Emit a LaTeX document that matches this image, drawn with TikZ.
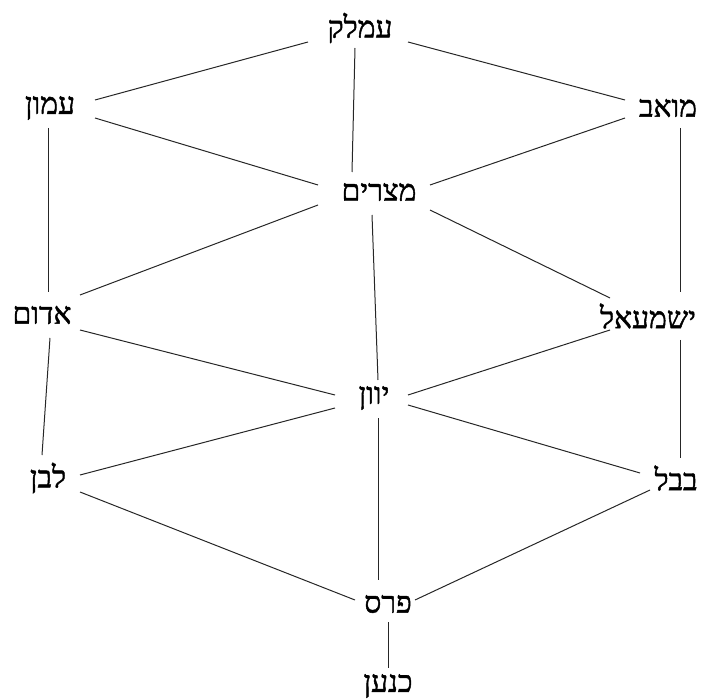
\documentclass[tikz,border=0pt]{standalone}
\usepackage{fontspec}
\newfontfamily\hebfont[Script=Hebrew,FakeBold=1.5]{Liberation Serif}
\TeXXeTstate=1
\usetikzlibrary{calc}
\begin{document}
\begin{tikzpicture}[x=1pt,y=-1pt,
  lbl/.style={inner sep=0pt, font=\hebfont\fontsize{30}{30}\selectfont},
  edge/.style={line width=1pt, black!85}]
\useasboundingbox (0,0) rectangle (701,700);
\node[lbl] (A) at (360,28) {\beginR עמלק\endR};
\node[lbl] (B) at (50,108) {\beginR עמון\endR};
\node[lbl] (C) at (668,108) {\beginR מואב\endR};
\node[lbl] (D) at (379,192) {\beginR מצרים\endR};
\node[lbl] (E) at (42,315) {\beginR אדום\endR};
\node[lbl] (F) at (648,316) {\beginR ישמעאל\endR};
\node[lbl] (G) at (374,398) {\beginR יוון\endR};
\node[lbl] (H) at (48,478) {\beginR לבן\endR};
\node[lbl] (I) at (676,478) {\beginR בבל\endR};
\node[lbl] (J) at (388,604) {\beginR פרס\endR};
\node[lbl] (K) at (388,686) {\beginR כנען\endR};
\draw[edge] ($(A)+(-52,14)$) -- ($(B)+(45,-8)$);
\draw[edge] ($(A)+(48,14)$) -- ($(C)+(-43,-8)$);
\draw[edge] ($(A)+(-5,20)$) -- ($(D)+(-27,-20)$);
\draw[edge] ($(B)+(45,10)$) -- ($(D)+(-61,-7)$);
\draw[edge] ($(C)+(-43,10)$) -- ($(D)+(51,-7)$);
\draw[edge] ($(B)+(-2,20)$) -- ($(E)+(6,-23)$);
\draw[edge] ($(C)+(12,20)$) -- ($(F)+(32,-24)$);
\draw[edge] ($(D)+(-61,13)$) -- ($(E)+(38,-20)$);
\draw[edge] ($(D)+(51,18)$) -- ($(F)+(-38,-18)$);
\draw[edge] ($(D)+(-7,23)$) -- ($(G)+(4,-18)$);
\draw[edge] ($(E)+(38,15)$) -- ($(G)+(-39,-3)$);
\draw[edge] ($(F)+(-38,14)$) -- ($(G)+(34,-3)$);
\draw[edge] ($(E)+(8,23)$) -- ($(H)+(-6,-23)$);
\draw[edge] ($(F)+(32,24)$) -- ($(I)+(4,-20)$);
\draw[edge] ($(G)+(-39,10)$) -- ($(H)+(32,-3)$);
\draw[edge] ($(G)+(34,7)$) -- ($(I)+(-36,-5)$);
\draw[edge] ($(G)+(4,20)$) -- ($(J)+(-10,-24)$);
\draw[edge] ($(H)+(32,14)$) -- ($(J)+(-33,-4)$);
\draw[edge] ($(I)+(-26,12)$) -- ($(J)+(27,-4)$);
\draw[edge] ($(J)+(0,18)$) -- ($(K)+(0,-18)$);
\end{tikzpicture}
\end{document}
